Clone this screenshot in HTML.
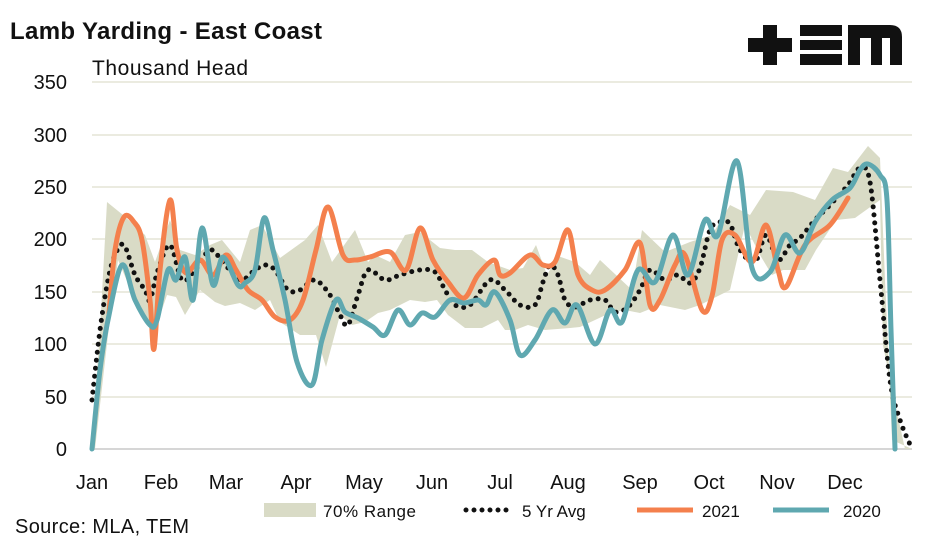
<!DOCTYPE html>
<html><head><meta charset="utf-8"><style>
body{margin:0;background:#fff;width:947px;height:543px;overflow:hidden;font-family:"Liberation Sans",Arial,sans-serif}
</style></head><body>
<svg id="s" width="947" height="543" xmlns="http://www.w3.org/2000/svg" style="position:absolute;left:0;top:0">
<g stroke="#ebebe0" stroke-width="2">
<line x1="92" x2="912" y1="82" y2="82"/><line x1="92" x2="912" y1="135" y2="135"/><line x1="92" x2="912" y1="187" y2="187"/><line x1="92" x2="912" y1="239" y2="239"/><line x1="92" x2="912" y1="292" y2="292"/><line x1="92" x2="912" y1="344" y2="344"/><line x1="92" x2="912" y1="397" y2="397"/>
</g>
<line x1="92" x2="912" y1="449" y2="449" stroke="#d6d6d6" stroke-width="2"/>
<polygon fill="#d9dbc6" points="92,440 100,330 107,202 123,215 145,235 155,262 170,220 180,250 195,255 210,245 222,240 240,262 250,230 262,225 280,258 305,240 318,225 332,262 355,230 368,262 375,255 390,262 405,235 420,232 430,240 440,248 455,250 472,250 488,262 510,270 523,268 536,245 547,275 558,256 575,262 590,275 600,260 632,290 642,230 665,252 690,242 712,235 730,205 750,215 766,190 793,192 815,200 833,168 848,172 868,146 880,158 885,280 892,440 912,449 905,449 890,380 883,345 880,200 855,218 836,220 816,250 805,270 783,270 772,275 760,255 745,225 730,290 700,305 685,310 660,305 640,313 625,310 610,313 595,320 580,327 570,328 545,330 528,325 515,330 505,330 498,320 482,328 465,328 448,315 437,300 425,302 410,300 390,310 378,313 365,322 352,325 340,315 326,367 316,335 300,335 280,322 270,300 255,310 240,303 225,306 215,302 200,290 185,315 176,297 167,295 155,330 148,320 133,295 118,260 108,335 95,449"/>
<path id="avg" fill="none" stroke="#111" stroke-width="5" stroke-linecap="round" stroke-dasharray="0 8"/>
<path id="o" fill="none" stroke="#f4804d" stroke-width="5" stroke-linecap="round" stroke-linejoin="round"/>
<path id="t" fill="none" stroke="#5fa8b0" stroke-width="5" stroke-linecap="round" stroke-linejoin="round"/>
<g font-size="20" fill="#111" text-anchor="end">
<text x="67" y="89">350</text><text x="67" y="142">300</text><text x="67" y="194">250</text><text x="67" y="246">200</text><text x="67" y="299">150</text><text x="67" y="351">100</text><text x="67" y="404">50</text><text x="67" y="456">0</text>
</g>
<g font-size="20" fill="#111" text-anchor="middle">
<text x="92" y="489">Jan</text><text x="161" y="489">Feb</text><text x="226" y="489">Mar</text><text x="296" y="489">Apr</text><text x="364" y="489">May</text><text x="432" y="489">Jun</text><text x="500" y="489">Jul</text><text x="568" y="489">Aug</text><text x="640" y="489">Sep</text><text x="709" y="489">Oct</text><text x="777" y="489">Nov</text><text x="845" y="489">Dec</text>
</g>
<text x="10" y="39" font-size="24" font-weight="bold" fill="#111" textLength="312">Lamb Yarding - East Coast</text>
<text x="92" y="75" font-size="21" fill="#111" textLength="156">Thousand Head</text>
<text x="15" y="533" font-size="20" fill="#111" textLength="174">Source: MLA, TEM</text>
<rect x="264" y="503" width="52" height="14" fill="#d9dbc6"/>
<text x="323" y="517" font-size="17" fill="#111" textLength="93">70% Range</text>
<line x1="466" x2="512" y1="510" y2="510" stroke="#111" stroke-width="5" stroke-linecap="round" stroke-dasharray="0 8"/>
<text x="522" y="517" font-size="17" fill="#111">5 Yr Avg</text>
<line x1="637" x2="693" y1="510" y2="510" stroke="#f4804d" stroke-width="5"/>
<text x="702" y="517" font-size="17" fill="#111">2021</text>
<line x1="773" x2="829" y1="510" y2="510" stroke="#5fa8b0" stroke-width="5"/>
<text x="843" y="517" font-size="17" fill="#111">2020</text>
<g fill="#111">
<rect x="763" y="25" width="14" height="40"/><rect x="748" y="38" width="44" height="14"/>
<rect x="800" y="25" width="42" height="11"/><rect x="800" y="40" width="42" height="10"/><rect x="800" y="54" width="42" height="11"/>
<path d="M848 25 H890 Q902 25 902 37 V65 H890 V38 H882 V65 H871 V38 H860 V65 H848 Z"/>
</g>
</svg>
<script>
function sm(p){var d="M"+p[0][0]+","+p[0][1];for(var i=0;i<p.length-1;i++){var a=p[i-1]||p[i],b=p[i],c=p[i+1],e=p[i+2]||c;d+=" C"+(b[0]+(c[0]-a[0])/6)+","+(b[1]+(c[1]-a[1])/6)+" "+(c[0]-(e[0]-b[0])/6)+","+(c[1]-(e[1]-b[1])/6)+" "+c[0]+","+c[1];}return d;}
var O=[[109,313],[115,250],[124,217],[134,222],[142,240],[150,300],[154,349],[160,270],[170,200],[177,250],[186,273],[200,260],[213,275],[226,255],[236,270],[248,290],[262,300],[275,317],[290,320],[303,300],[316,250],[328,207],[343,255],[355,260],[370,257],[390,252],[406,270],[420,228],[433,260],[448,282],[464,298],[478,275],[494,260],[500,275],[510,273],[530,255],[543,265],[555,262],[568,230],[578,275],[592,290],[605,290],[625,270],[640,243],[650,305],[660,300],[675,265],[685,255],[702,310],[712,296],[722,240],[735,235],[752,262],[766,225],[778,270],[786,287],[805,245],[830,225],[848,198]];
var T=[[92,449],[100,370],[108,320],[122,265],[135,300],[150,325],[157,320],[168,270],[176,280],[185,257],[193,300],[202,228],[213,285],[223,257],[238,285],[245,283],[255,270],[264,218],[273,250],[285,300],[297,362],[312,385],[322,340],[336,300],[345,312],[358,318],[373,327],[385,335],[398,310],[410,325],[422,313],[435,317],[450,300],[464,303],[478,300],[486,305],[495,292],[510,320],[520,355],[535,340],[552,310],[565,323],[577,305],[595,344],[610,310],[622,322],[638,270],[655,282],[673,235],[688,275],[705,220],[718,235],[737,161],[752,268],[770,272],[785,235],[800,253],[815,222],[832,200],[850,188],[860,170],[868,164],[880,175],[887,200],[891,330],[895,449]];
var A=[[92,400],[100,330],[108,280],[115,255],[124,245],[135,275],[145,290],[150,300],[158,270],[170,245],[182,280],[195,270],[210,250],[223,262],[240,280],[255,270],[265,265],[275,270],[288,290],[300,290],[315,280],[330,295],[340,315],[348,325],[358,295],[368,270],[385,280],[400,275],[420,270],[435,272],[445,290],[455,305],[470,305],[490,280],[505,290],[520,305],[535,305],[543,282],[550,265],[558,275],[565,300],[575,307],[590,300],[605,300],[615,312],[628,307],[640,290],[650,270],[665,280],[678,275],[690,283],[700,268],[710,230],[720,222],[730,224],[740,250],[755,262],[766,235],[778,260],[790,245],[800,238],[815,220],[830,205],[848,185],[860,168],[870,182],[880,280],[890,380],[900,420],[912,449]];
document.getElementById("o").setAttribute("d",sm(O));
document.getElementById("t").setAttribute("d",sm(T));
document.getElementById("avg").setAttribute("d",sm(A));
</script>
</body></html>
